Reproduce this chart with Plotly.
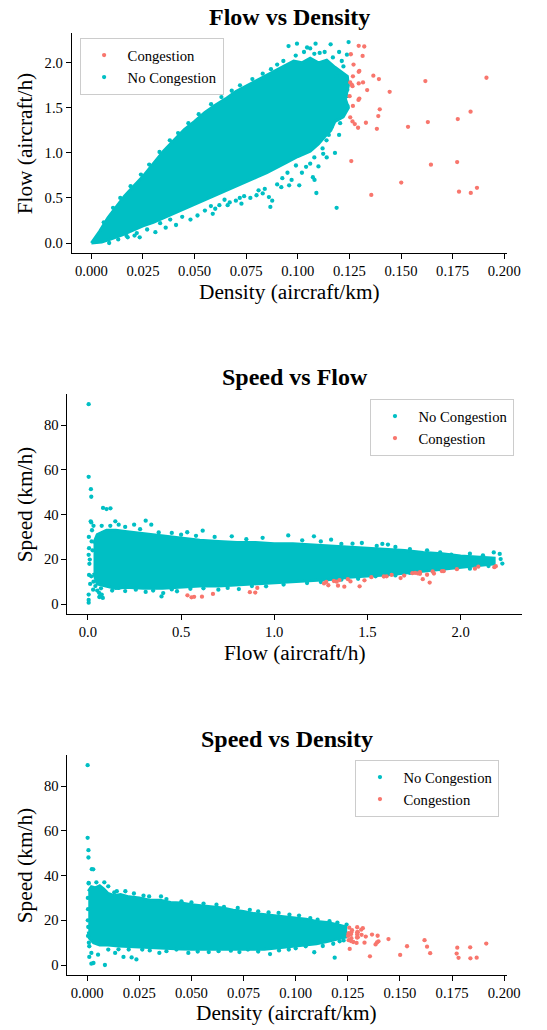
import plotly.graph_objects as go

TEAL = "#00BFC4"
SALMON = "#F8766D"
FONT = "Liberation Serif"

# ---------------- Congestion points (shared by the three panels) ----------------
cong_density = [0.1295, 0.1322, 0.1257, 0.1314, 0.1270, 0.1298, 0.1295, 0.1267, 0.1366, 0.1393,
                0.1618, 0.1914, 0.1254, 0.1262, 0.1265, 0.1295, 0.1316, 0.1336, 0.1445, 0.1251,
                0.1298, 0.1294, 0.1267, 0.1397, 0.1390, 0.1837, 0.1254, 0.1265, 0.1276, 0.1292,
                0.1330, 0.1383, 0.1534, 0.1630, 0.1775, 0.1259, 0.1645, 0.1772, 0.1501, 0.1356,
                0.1781, 0.1838, 0.1868]
cong_flow = [2.189, 2.181, 2.095, 2.077, 1.980, 1.909, 1.900, 1.850, 1.857, 1.820,
             1.797, 1.834, 1.782, 1.756, 1.741, 1.771, 1.782, 1.697, 1.678, 1.630,
             1.603, 1.588, 1.521, 1.484, 1.409, 1.458, 1.395, 1.350, 1.320, 1.279,
             1.335, 1.267, 1.290, 1.342, 1.376, 0.909, 0.869, 0.898, 0.671, 0.534,
             0.570, 0.556, 0.612]
cong_speed = [16.9, 16.5, 16.7, 15.8, 15.6, 14.7, 14.7, 14.6, 13.6, 13.1,
              11.1, 9.6, 14.2, 13.9, 13.8, 13.7, 13.5, 12.7, 11.6, 13.0,
              12.4, 12.3, 12.0, 10.6, 10.1, 7.9, 11.1, 10.7, 10.3, 9.9,
              10.0, 9.2, 8.4, 8.2, 7.75, 7.2, 5.3, 5.1, 4.5, 3.9,
              3.2, 3.0, 3.3]

# ---------------- No congestion: outline of the dense core + scattered points ----------------
# Panel 1: Flow vs Density
core1_density = [0.0, 0.004, 0.008, 0.012, 0.016, 0.020, 0.025, 0.030, 0.035, 0.040, 0.045, 0.050,
                 0.055, 0.060, 0.065, 0.070, 0.075, 0.080, 0.085, 0.090, 0.095, 0.098, 0.102, 0.106,
                 0.110, 0.114, 0.118, 0.121, 0.124,
                 0.1245, 0.123, 0.1245, 0.122, 0.118, 0.116, 0.113, 0.110, 0.106,
                 0.100, 0.095, 0.090, 0.085, 0.080, 0.075, 0.070, 0.065, 0.060, 0.055, 0.050, 0.045,
                 0.040, 0.035, 0.030, 0.025, 0.020, 0.015, 0.010, 0.005, 0.0]
core1_flow = [0.0, 0.13, 0.28, 0.40, 0.52, 0.62, 0.74, 0.88, 1.02, 1.14, 1.26, 1.35,
              1.45, 1.53, 1.60, 1.68, 1.74, 1.80, 1.86, 1.92, 1.98, 2.02, 2.00, 2.05,
              2.00, 2.03, 1.95, 1.90, 1.85,
              1.75, 1.60, 1.50, 1.40, 1.35, 1.25, 1.18, 1.10, 1.02,
              0.96, 0.90, 0.84, 0.78, 0.73, 0.68, 0.63, 0.58, 0.53, 0.48, 0.43, 0.38,
              0.33, 0.28, 0.23, 0.19, 0.14, 0.09, 0.05, 0.01, 0.0]
pts1_density = [0.1246, 0.1159, 0.1086, 0.0996, 0.0955, 0.1060, 0.1045, 0.1106, 0.1213, 0.1221,
                0.1238, 0.0990, 0.1030, 0.1080, 0.1130, 0.1170, 0.1200, 0.0930, 0.0900, 0.0870,
                0.0830, 0.0780, 0.0720, 0.0680, 0.0630, 0.0580, 0.0520, 0.0470, 0.0420, 0.0380,
                0.0330, 0.0280, 0.0240, 0.0190, 0.0140, 0.0105, 0.0060,
                0.1238, 0.1241, 0.1205, 0.1164, 0.1139, 0.1180, 0.1123, 0.1230, 0.1188, 0.1220,
                0.1150, 0.1200, 0.1240, 0.1215,
                0.1080, 0.1120, 0.1188, 0.1090, 0.1073, 0.1081, 0.1040, 0.1007, 0.0958, 0.0991,
                0.0925, 0.0950, 0.0900, 0.0876, 0.0867, 0.0860, 0.0840, 0.0810, 0.0800, 0.0770,
                0.0719, 0.0727, 0.0700, 0.0670, 0.0645, 0.0620, 0.0579, 0.0588, 0.0550, 0.0514,
                0.0480, 0.0440, 0.0382, 0.0410, 0.0360, 0.0333, 0.0310, 0.0270, 0.0234, 0.0209,
                0.0176, 0.0086, 0.0130, 0.0170, 0.0220, 0.0600, 0.0660, 0.0740, 0.0830, 0.0920,
                0.0970, 0.1020, 0.1060, 0.1100, 0.1140]
pts1_flow = [2.230, 2.205, 2.212, 2.212, 2.186, 2.160, 2.170, 2.110, 2.020, 1.960,
             2.090, 2.080, 2.120, 2.100, 2.120, 2.060, 2.120, 2.020, 1.980, 1.930,
             1.880, 1.820, 1.750, 1.690, 1.620, 1.540, 1.430, 1.330, 1.220, 1.140,
             1.010, 0.870, 0.760, 0.630, 0.500, 0.390, 0.230,
             1.630, 1.520, 1.330, 1.290, 1.140, 1.000, 0.990, 1.780, 1.850, 1.450,
             1.200, 1.200, 1.700, 1.560,
             0.950, 1.050, 0.390, 0.555, 0.730, 0.700, 0.845, 0.640, 0.640, 0.860,
             0.720, 0.780, 0.650, 0.470, 0.400, 0.510, 0.600, 0.585, 0.530, 0.500,
             0.500, 0.436, 0.470, 0.450, 0.480, 0.420, 0.410, 0.324, 0.360, 0.305,
             0.260, 0.290, 0.260, 0.200, 0.170, 0.220, 0.120, 0.150, 0.063, 0.082,
             0.063, 0.000, 0.040, 0.080, 0.110, 0.380, 0.420, 0.520, 0.550, 0.620,
             0.700, 0.780, 0.880, 0.850, 0.950]

# Panel 2: Speed vs Flow
core2_flow = [0.03, 0.05, 0.10, 0.15, 0.20, 0.25, 0.30, 0.35, 0.40, 0.45, 0.50, 0.55, 0.60, 0.70,
              0.80, 0.90, 1.00, 1.10, 1.20, 1.30, 1.40, 1.50, 1.60, 1.70, 1.80, 1.90,
              2.00, 2.10, 2.18,
              2.18, 2.10, 2.00, 1.90, 1.80, 1.70, 1.60, 1.50, 1.40, 1.30, 1.20, 1.10, 1.00, 0.90,
              0.80, 0.70, 0.60, 0.50, 0.40, 0.30, 0.20, 0.15, 0.10, 0.07, 0.05, 0.03]
core2_speed = [27, 31, 33, 33, 32.5, 32, 31.5, 31, 30.5, 30, 29.5, 29, 28.5, 28,
               27.5, 27.5, 27, 27, 26.5, 26, 25.5, 25, 24.5, 24, 23, 22.5,
               21.5, 21, 20.5,
               18, 17.3, 16.3, 15.5, 14.8, 14, 13, 12.5, 12, 11, 10.5, 10, 9.5, 9,
               8.5, 8, 8, 7.5, 7, 7, 7.5, 7, 8, 8.5, 9, 14]
pts2_flow = [0.004, 0.004, 0.016, 0.018, 0.081, 0.100, 0.121, 0.018, 0.004, 0.004, 0.004, 0.072,
             0.080,
             0.005, 0.006, 0.004, 0.008, 0.006, 0.012, 0.020, 0.025, 0.022, 0.030, 0.030, 0.040,
             0.050, 0.060, 0.065, 0.070, 0.015, 0.010, 0.018, 0.028, 0.061, 0.074,
             0.074, 0.147, 0.165, 0.248, 0.310, 0.340, 0.450, 0.533, 0.616, 0.772, 0.9375,
             1.075, 1.213, 1.305, 1.360, 1.470, 1.580, 1.610, 1.728, 1.890, 1.950, 2.178, 2.210,
             2.224, 2.215, 0.120, 0.200, 0.280, 0.380, 0.500, 0.580, 0.680, 0.850, 1.150, 1.250,
             1.420, 1.550, 1.650, 1.820, 2.050, 2.120,
             0.165, 0.257, 0.310, 0.395, 0.404, 0.478, 0.700, 0.810, 0.956, 1.176, 1.360, 1.544,
             1.728, 1.910, 0.130, 0.200, 0.350, 0.450, 0.550, 0.620, 0.750, 0.880, 1.050, 1.250,
             1.450, 1.650, 1.850, 2.050, 2.150]
pts2_speed = [89.4, 56.9, 51.4, 48.0, 43.0, 42.5, 42.8, 36.5, 4.2, 1.8, 0.6, 3.3,
              2.7,
              30.0, 25.0, 22.0, 18.0, 13.0, 9.0, 28.0, 24.0, 33.0, 35.0, 10.0, 8.0,
              6.0, 5.0, 3.5, 7.0, 37.0, 19.9, 12.4, 6.4, 3.1, 4.2,
              35.0, 37.0, 35.5, 35.5, 37.3, 35.5, 31.8, 32.1, 32.8, 30.3, 29.6,
              30.7, 30.3, 28.8, 26.9, 27.3, 26.9, 26.6, 24.6, 23.1, 22.1, 23.1, 22.4,
              18.1, 20.1, 35.0, 34.5, 33.5, 32.0, 31.0, 30.5, 30.0, 29.0, 28.5, 28.0,
              27.0, 26.0, 25.5, 24.0, 22.5, 21.8,
              7.2, 6.4, 5.4, 3.4, 4.9, 5.7, 6.4, 6.7, 7.9, 9.4, 10.9, 12.4,
              13.9, 15.7, 6.0, 5.8, 6.0, 6.5, 6.8, 7.0, 7.2, 8.0, 8.7, 9.8,
              11.3, 12.8, 14.5, 15.8, 17.0]

# Panel 3: Speed vs Density
core3_density = [0.0005, 0.002, 0.004, 0.006, 0.008, 0.010, 0.013, 0.016, 0.020, 0.025, 0.030, 0.035,
                 0.040, 0.045, 0.050, 0.055, 0.060, 0.065, 0.070, 0.075, 0.080, 0.085, 0.090, 0.095,
                 0.100, 0.105, 0.110, 0.115, 0.120, 0.124,
                 0.124, 0.120, 0.115, 0.110, 0.105, 0.100, 0.095, 0.090, 0.085, 0.080, 0.075, 0.070,
                 0.065, 0.060, 0.055, 0.050, 0.045, 0.040, 0.035, 0.030, 0.025, 0.020, 0.015, 0.010,
                 0.006, 0.003, 0.001, 0.0005]
core3_speed = [33, 35, 34.5, 35.5, 34, 32, 31, 31.5, 30.5, 30, 29, 29,
               28, 27.8, 27, 26.5, 26, 25.5, 24.5, 24, 23, 22.5, 22, 21.5,
               21, 20.5, 19.5, 19, 18, 17,
               12.5, 11.5, 10.5, 9.5, 9, 8.5, 8, 7.5, 7, 7, 7, 6.8,
               7, 6.8, 7, 7, 7.2, 7.5, 7.5, 7.8, 8, 8.2, 8.5, 9,
               9, 10, 12, 15]
pts3_density = [0.0002, 0.0002, 0.0006, 0.0006, 0.0022, 0.0029, 0.0007, 0.0010, 0.0020, 0.0030,
                0.0085, 0.0174, 0.0213, 0.0236,
                0.0003, 0.0004, 0.0003, 0.0005, 0.0004, 0.0008, 0.0010, 0.0020, 0.0052,
                0.0007, 0.0044, 0.0082, 0.0101, 0.0142, 0.0183, 0.0224, 0.0297, 0.0354, 0.0452,
                0.0558, 0.0656, 0.0722, 0.0820, 0.0918, 0.1016, 0.1105, 0.1162, 0.1244, 0.0130,
                0.0270, 0.0380, 0.0500, 0.0620, 0.0780, 0.0870, 0.0970, 0.1070, 0.1200,
                0.0101, 0.0134, 0.0199, 0.0264, 0.0346, 0.0428, 0.0485, 0.0583, 0.0689, 0.0771,
                0.0877, 0.0967, 0.1048, 0.1089, 0.1187, 0.1211, 0.0150, 0.0300, 0.0380, 0.0530,
                0.0630, 0.0730, 0.0820, 0.0920, 0.1000, 0.1130, 0.1180, 0.1230]
pts3_speed = [89.4, 56.9, 51.4, 48.1, 42.9, 42.8, 36.5, 3.6, 0.6, 0.9,
              0.0, 3.6, 3.4, 2.5,
              30.0, 25.0, 20.0, 17.0, 13.0, 10.0, 8.4, 5.4, 4.6,
              36.7, 37.0, 37.0, 35.2, 33.0, 33.0, 32.0, 30.7, 30.7, 28.5,
              27.5, 26.0, 25.5, 24.0, 23.3, 22.1, 20.3, 19.6, 18.1, 32.5,
              31.0, 29.5, 28.0, 27.0, 24.7, 23.5, 22.5, 21.0, 19.0,
              6.9, 5.4, 6.9, 6.9, 5.4, 6.9, 5.4, 5.8, 6.4, 6.9,
              4.9, 6.9, 8.4, 5.7, 3.3, 10.6, 7.0, 6.5, 6.2, 6.0,
              6.2, 5.8, 6.0, 6.5, 7.5, 8.5, 9.5, 11.0]

# ---------------- Figure ----------------
W, H = 547, 1030
fig = go.Figure()
MS = 4.3


def core(x, y, xa, ya):
    return go.Scatter(x=x, y=y, xaxis=xa, yaxis=ya, mode="lines", fill="toself",
                      fillcolor=TEAL, line=dict(color=TEAL, width=3),
                      showlegend=False, hoverinfo="skip")


def pts(x, y, xa, ya, color, name, legend, rank):
    return go.Scatter(x=x, y=y, xaxis=xa, yaxis=ya, mode="markers", name=name,
                      marker=dict(color=color, size=MS, line=dict(width=0)),
                      legend=legend, legendrank=rank)


# Panel 1
fig.add_trace(core(core1_density, core1_flow, "x", "y"))
fig.add_trace(pts(pts1_density, pts1_flow, "x", "y", TEAL, "No Congestion", "legend", 2))
fig.add_trace(pts(cong_density, cong_flow, "x", "y", SALMON, "Congestion", "legend", 1))
# Panel 2
fig.add_trace(core(core2_flow, core2_speed, "x2", "y2"))
fig.add_trace(pts(pts2_flow, pts2_speed, "x2", "y2", TEAL, "No Congestion", "legend2", 1))
fig.add_trace(pts(cong_flow, cong_speed, "x2", "y2", SALMON, "Congestion", "legend2", 2))
# Panel 3
fig.add_trace(core(core3_density, core3_speed, "x3", "y3"))
fig.add_trace(pts(pts3_density, pts3_speed, "x3", "y3", TEAL, "No Congestion", "legend3", 1))
fig.add_trace(pts(cong_density, cong_speed, "x3", "y3", SALMON, "Congestion", "legend3", 2))


def px2paper_x(px):
    return px / W


def px2paper_y(py):
    return 1 - py / H


tickfont = dict(family=FONT, size=14.67, color="black")
axis_common = dict(showline=True, linecolor="black", linewidth=1.1, ticks="outside",
                   ticklen=4.7, tickwidth=1.1, tickcolor="black", showgrid=False,
                   zeroline=False, mirror=False, tickfont=tickfont, fixedrange=True)

panels = [
    # (left px, right px, top px, bottom px, xrange, yrange, xdtick, xfmt, ydtick, yfmt)
    (73.5, 520, 33, 253, [-0.00958, 0.2012], [-0.111, 2.331], 0.025, ".3f", 0.5, ".1f"),
    (69, 536, 394, 614, [-0.111, 2.331], [-4.475, 93.975], 0.5, ".1f", 20, "d"),
    (69, 520, 755, 975, [-0.00958, 0.2012], [-4.475, 93.975], 0.025, ".3f", 20, "d"),
]

layout_axes = {}
for i, (l, r, t, b, xr, yr, xdt, xf, ydt, yf) in enumerate(panels, start=1):
    sx = "" if i == 1 else str(i)
    layout_axes["xaxis" + sx] = dict(axis_common, domain=[px2paper_x(l), px2paper_x(r)],
                                     range=xr, dtick=xdt, tick0=0, tickformat=xf,
                                     anchor="y" + sx)
    layout_axes["yaxis" + sx] = dict(axis_common, domain=[px2paper_y(b), px2paper_y(t)],
                                     range=yr, dtick=ydt, tick0=0, tickformat=yf,
                                     anchor="x" + sx)

fig.update_layout(**layout_axes)

titles = ["Flow vs Density", "Speed vs Flow", "Speed vs Density"]
xlabels = ["Density (aircraft/km)", "Flow (aircraft/h)", "Density (aircraft/km)"]
ylabels = ["Flow (aircraft/h)", "Speed (km/h)", "Speed (km/h)"]
title_y = [16.7, 377.3, 739]
xlabel_y = [291.7, 653.3, 1013.3]

annotations = []
for i, (l, r, t, b, *_rest) in enumerate(panels):
    cx = (l + r) / 2
    annotations.append(dict(text="<b>" + titles[i] + "</b>", x=px2paper_x(cx), y=px2paper_y(title_y[i]),
                            xref="paper", yref="paper", xanchor="center", yanchor="middle",
                            showarrow=False, font=dict(family=FONT, size=24, color="black")))
    annotations.append(dict(text=xlabels[i], x=px2paper_x(cx), y=px2paper_y(xlabel_y[i]),
                            xref="paper", yref="paper", xanchor="center", yanchor="middle",
                            showarrow=False, font=dict(family=FONT, size=21.33, color="black")))
    annotations.append(dict(text=ylabels[i], x=px2paper_x(26), y=px2paper_y((t + b) / 2),
                            xref="paper", yref="paper", xanchor="center", yanchor="middle",
                            textangle=-90, showarrow=False,
                            font=dict(family=FONT, size=21.33, color="black")))

legend_common = dict(bgcolor="rgba(255,255,255,0.8)", bordercolor="#cccccc", borderwidth=1,
                     font=dict(family=FONT, size=14.67, color="black"), itemwidth=37,
                     traceorder="normal")

fig.update_layout(
    width=W, height=H, margin=dict(l=0, r=0, t=0, b=0),
    paper_bgcolor="white", plot_bgcolor="white",
    annotations=annotations,
    legend=dict(legend_common, x=px2paper_x(81.7), y=px2paper_y(38), xanchor="left", yanchor="top"),
    legend2=dict(legend_common, x=px2paper_x(528), y=px2paper_y(399), xanchor="right", yanchor="top"),
    legend3=dict(legend_common, x=px2paper_x(512.6), y=px2paper_y(760), xanchor="right", yanchor="top"),
)

fig.write_html("out.html")
